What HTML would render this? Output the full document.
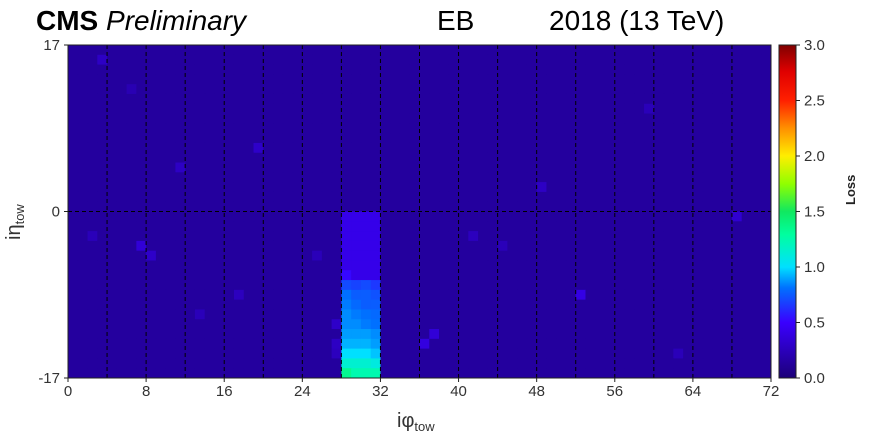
<!DOCTYPE html>
<html><head><meta charset="utf-8"><style>
body{margin:0;background:#fff;width:869px;height:436px;overflow:hidden;font-family:"Liberation Sans",sans-serif}
</style></head><body>
<svg id="chart" width="869" height="436" xmlns="http://www.w3.org/2000/svg">
<defs>
<linearGradient id="cbar" x1="0" y1="1" x2="0" y2="0">
<stop offset="0" stop-color="#1c0078"/><stop offset="0.167" stop-color="#3a00ff"/><stop offset="0.27" stop-color="#0070ff"/><stop offset="0.333" stop-color="#00e0ff"/><stop offset="0.43" stop-color="#00ffa0"/><stop offset="0.5" stop-color="#10e860"/><stop offset="0.583" stop-color="#90ff00"/><stop offset="0.667" stop-color="#ffee00"/><stop offset="0.75" stop-color="#ff9000"/><stop offset="0.833" stop-color="#ff2000"/><stop offset="0.92" stop-color="#e00000"/><stop offset="1" stop-color="#800000"/>
</linearGradient>
</defs>
<g id="cells"></g>
<g id="grid"></g>
<rect x="68" y="45" width="703" height="333" fill="none" stroke="#222" stroke-width="1"/>
<g id="axes" font-size="15" fill="#333"></g>
<text x="397" y="427" font-size="20" fill="#333">iφ<tspan font-size="13" dy="4">tow</tspan></text>
<text transform="translate(20,240) rotate(-90)" font-size="20" fill="#333">iη<tspan font-size="13" dy="4">tow</tspan></text>
<rect x="779" y="45" width="17" height="333" fill="url(#cbar)" stroke="#222"/>
<g id="cbticks" font-size="15" fill="#333"></g>
<text transform="translate(855,205) rotate(-90)" font-size="13" font-weight="bold" fill="#222">Loss</text>
<text x="36" y="30" font-size="28" fill="#000"><tspan font-weight="bold">CMS</tspan> <tspan font-style="italic">Preliminary</tspan></text>
<text x="437" y="30" font-size="28" fill="#000">EB</text>
<text x="549" y="30" font-size="28" fill="#000">2018 (13 TeV)</text>
</svg>
<script>
const nPhi = 72;
const nEta = 34;
const baseLoss = 0.14;
// sparse bright spots: [phiCol, rowFromTop, loss]
const spots = [[7,20,0.35],[8,21,0.3],[11,12,0.28],[19,10,0.3],[3,1,0.28],[52,25,0.4],[37,29,0.35],[36,30,0.38],[68,17,0.33],[48,14,0.28],[17,25,0.26],[27,28,0.3],[41,19,0.26],[59,6,0.24],[2,19,0.24],[13,27,0.24],[25,21,0.24],[62,31,0.24],[44,20,0.24],[6,4,0.22],[27,30,0.28],[27,31,0.26]];
// hot region columns 28..31, rows 17..33 (eta 0 to -17)
const hotCols = [28,29,30,31];
const hotRows = [
 [0.42,0.42,0.42,0.42],[0.42,0.42,0.42,0.42],[0.42,0.42,0.42,0.42],[0.42,0.42,0.42,0.42],
 [0.42,0.42,0.42,0.42],[0.42,0.42,0.42,0.42],[0.52,0.42,0.42,0.42],[0.7,0.68,0.7,0.65],
 [0.8,0.75,0.75,0.72],[0.82,0.78,0.75,0.75],[0.85,0.82,0.8,0.78],[0.85,0.85,0.82,0.8],
 [0.88,0.88,0.88,0.85],[0.92,0.92,0.92,0.88],[1.0,1.0,1.0,0.95],[1.15,1.15,1.15,1.1],[1.35,1.25,1.25,1.25]];
const xTicks = [0,8,16,24,32,40,48,56,64,72];
const yTicks = [17,0,-17];
const cbTicks = [0,0.5,1,1.5,2,2.5,3];

const X0=68,X1=771,Y0=45,Y1=378;
const xs = v => X0 + v*(X1-X0)/nPhi;
const ys = r => Y0 + r*(Y1-Y0)/nEta;
const yEta = e => Y0 + (17-e)*(Y1-Y0)/nEta;
const cbY = v => Y1 - v*(Y1-Y0)/3;
const stops=[[0,[28,0,120]],[0.5,[58,0,255]],[0.8,[0,112,255]],[1,[0,224,255]],[1.3,[0,255,160]],[1.5,[16,232,96]],[1.75,[144,255,0]],[2,[255,238,0]],[2.25,[255,144,0]],[2.5,[255,32,0]],[2.75,[224,0,0]],[3,[128,0,0]]];
function cmap(v){v=Math.max(0,Math.min(3,v));for(let i=1;i<stops.length;i++){if(v<=stops[i][0]){const a=stops[i-1],b=stops[i],t=(v-a[0])/(b[0]-a[0]);return 'rgb('+a[1].map((c,k)=>Math.round(c+(b[1][k]-c)*t)).join(',')+')';}}return 'rgb(128,0,0)';}
const NS='http://www.w3.org/2000/svg';
function mk(tag,attrs,parent){const e=document.createElementNS(NS,tag);for(const k in attrs)e.setAttribute(k,attrs[k]);parent.appendChild(e);return e;}
const vals=[];for(let r=0;r<nEta;r++){vals.push(new Array(nPhi).fill(baseLoss));}
spots.forEach(s=>{vals[s[1]][s[0]]=s[2];});
hotRows.forEach((row,i)=>row.forEach((v,j)=>{vals[17+i][hotCols[j]]=v;}));
const cells=document.getElementById('cells');
for(let r=0;r<nEta;r++)for(let c=0;c<nPhi;c++){
 const e=mk('rect',{x:xs(c),y:ys(r),width:xs(c+1)-xs(c)+0.5,height:ys(r+1)-ys(r)+0.5,fill:cmap(vals[r][c])},cells);
 
 
}
const grid=document.getElementById('grid');
for(let c=4;c<nPhi;c+=4){const l=mk('line',{x1:xs(c),x2:xs(c),y1:Y0,y2:Y1,stroke:'#000','stroke-width':1,'stroke-dasharray':'4,3'},grid);
 
 }
const hl=mk('line',{x1:X0,x2:X1,y1:yEta(0),y2:yEta(0),stroke:'#000','stroke-width':1,'stroke-dasharray':'4,3'},grid);


const axes=document.getElementById('axes');
xTicks.forEach(t=>{const e=mk('text',{x:xs(t),y:396,'text-anchor':'middle'},axes);e.textContent=t;
 
 
 mk('line',{x1:xs(t),x2:xs(t),y1:Y1,y2:Y1+4,stroke:'#222'},axes);});
yTicks.forEach(t=>{const e=mk('text',{x:60,y:yEta(t)+5,'text-anchor':'end'},axes);e.textContent=t;
 
 
 mk('line',{x1:X0-4,x2:X0,y1:yEta(t),y2:yEta(t),stroke:'#222'},axes);});
const cbt=document.getElementById('cbticks');
cbTicks.forEach(t=>{mk('line',{x1:796,x2:800,y1:cbY(t),y2:cbY(t),stroke:'#222'},cbt);
 const e=mk('text',{x:804,y:cbY(t)+5},cbt);e.textContent=t.toFixed(1);
 
 });
</script>
</body></html>
